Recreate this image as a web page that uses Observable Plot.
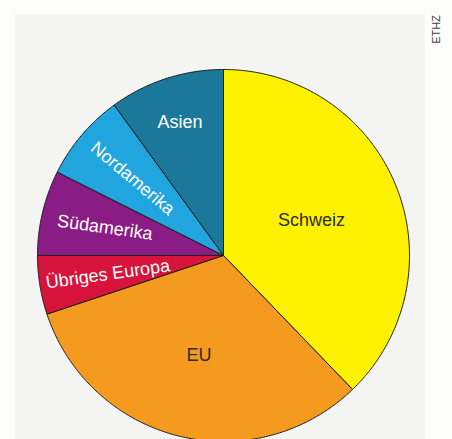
<!DOCTYPE html>
<html>
<head>
<meta charset="utf-8">
<script src="https://cdn.jsdelivr.net/npm/d3@7"></script>
<script src="https://cdn.jsdelivr.net/npm/@observablehq/plot@0.6"></script>
<style>
  html, body { margin: 0; padding: 0; background: #fdfdfc; }
  #wrap { position: relative; width: 452px; height: 439px; overflow: hidden; }
  #panel { position: absolute; left: 15px; top: 14px; width: 410px; height: 425px; background: #f4f4f2; }
  #chart { position: absolute; left: 0; top: 0; }
  #chart svg { background: transparent; overflow: hidden; }
</style>
</head>
<body>
<div id="wrap">
  <div id="panel"></div>
  <div id="chart"></div>
</div>
<script>
// Share by region (percent), clockwise from 12 o'clock
const regions = ["Schweiz", "EU", "Übriges Europa", "Südamerika", "Nordamerika", "Asien"];
const shares  = [37.8, 32.1, 5.1, 7.4, 7.6, 10.0];
const colors  = ["#fff200", "#f39a1f", "#d8143c", "#8a1c86", "#21a5df", "#1b789b"];
const labelColors = ["#2b2b2b", "#2b2b2b", "#ffffff", "#ffffff", "#ffffff", "#ffffff"];

// Label placement: fraction of radius along each slice's bisector, and rotation (deg)
const labelRadius = [0.51, 0.55, 0.63, 0.655, 0.64, 0.755];
const labelRotate = [0, 0, -8, 8, 40, 0];

// Layout
const W = 452, H = 439;
const cx = 223, cy = 255, R = 186;

const data = regions.map((name, i) => ({name, value: shares[i]}));
const arcs = d3.pie().sort(null).value(d => d.value)(data);

// Each slice as a closed polygon: centre → arc → centre
const slicePoints = arcs.flatMap(a => {
  const n = Math.max(2, Math.ceil((a.endAngle - a.startAngle) / (Math.PI / 360)));
  const pts = [{name: a.data.name, x: 0, y: 0}];
  for (let k = 0; k <= n; ++k) {
    const t = a.startAngle + (a.endAngle - a.startAngle) * k / n;
    pts.push({name: a.data.name, x: Math.sin(t), y: Math.cos(t)});
  }
  pts.push({name: a.data.name, x: 0, y: 0});
  return pts;
});

const labels = arcs.map((a, i) => {
  const mid = (a.startAngle + a.endAngle) / 2;
  return {
    name: a.data.name,
    x: labelRadius[i] * Math.sin(mid),
    y: labelRadius[i] * Math.cos(mid),
    rotate: labelRotate[i],
    color: labelColors[i]
  };
});

const font = "'Liberation Sans', Arial, Helvetica, sans-serif";

const chart = Plot.plot({
  width: W,
  height: H,
  margin: 0,
  style: {background: "transparent", fontFamily: font},
  x: {domain: [-1, 1], range: [cx - R, cx + R], axis: null},
  y: {domain: [-1, 1], range: [cy + R, cy - R], axis: null},
  color: {domain: regions, range: colors},
  marks: [
    Plot.line(slicePoints, {
      x: "x", y: "y", z: "name",
      fill: "name",
      stroke: "#1e1e1e",
      strokeWidth: 1,
      strokeLinejoin: "round",
      curve: "linear"
    }),
    Plot.text(labels.filter(d => d.color !== "#ffffff"), {
      x: "x", y: "y", text: "name", rotate: "rotate",
      fill: "#2b2b2b", fontSize: 18, fontFamily: font
    }),
    Plot.text(labels.filter(d => d.color === "#ffffff"), {
      x: "x", y: "y", text: "name", rotate: "rotate",
      fill: "#ffffff", fontSize: 18, fontFamily: font
    }),
    Plot.text(["ETHZ"], {
      frameAnchor: "top-right", dx: -16, dy: 29, rotate: -90,
      textAnchor: "middle", lineAnchor: "middle",
      fill: "#444", fontSize: 11, fontFamily: font
    })
  ]
});

document.getElementById("chart").append(chart);
</script>
</body>
</html>
